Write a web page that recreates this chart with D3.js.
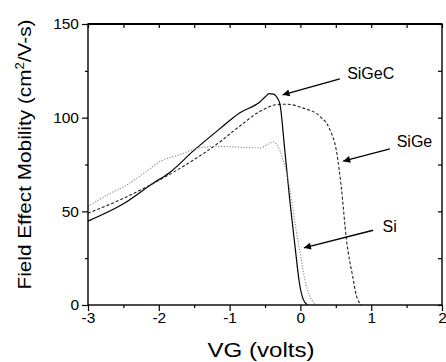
<!DOCTYPE html>
<html>
<head>
<meta charset="utf-8">
<script src="https://cdn.jsdelivr.net/npm/d3@7"></script>
<style>
  body { margin: 0; background: #fff; }
  svg { display: block; font-family: 'Liberation Sans', Arial, sans-serif; }
</style>
</head>
<body>
<div id="chart"></div>
<script>
// Constants
const WIDTH = 446;
const HEIGHT = 362;
const M = { left: 88, right: 4, top: 24, bottom: 57 };

// Data
const sigecVG = [-3.0, -2.5, -2.08, -1.85, -1.52, -1.14, -0.86, -0.57, -0.5, -0.44, -0.38, -0.34, -0.29, -0.22, -0.15, -0.07, -0.015, 0.04, 0.1];
const sigecMob = [44.8, 54, 65, 70.6, 82, 94, 102.5, 108.5, 111, 112.8, 112.6, 111.3, 107.4, 82.4, 55.9, 29.3, 12, 3, 0];

const sigeVG = [-3.0, -2.53, -2.06, -1.59, -1.14, -0.86, -0.57, -0.34, -0.2, 0.04, 0.275, 0.416, 0.51, 0.58, 0.65, 0.745, 0.79, 0.865];
const sigeMob = [49, 56.4, 65.3, 75.5, 87, 95.4, 103.4, 106.9, 107.2, 105.1, 100.7, 93.6, 82, 62, 35, 14, 5, 0];

const siVG = [-3.0, -2.67, -2.5, -2.2, -1.97, -1.7, -1.42, -1.14, -0.85, -0.57, -0.45, -0.39, -0.32, -0.25, -0.19, -0.12, -0.06, 0.0, 0.06, 0.13, 0.22];
const siMob = [52.6, 59.9, 63, 70.6, 76.8, 80.3, 83.9, 84.7, 84.2, 83.9, 86, 87, 85, 78, 70, 55, 40, 27, 14, 5, 0];

const xTicks = [-3, -2, -1, 0, 1, 2];
const xMinor = [-2.5, -1.5, -0.5, 0.5, 1.5];
const yTicks = [0, 50, 100, 150];
const yMinor = [25, 75, 125];

// Labels with arrows (label at [x, y], arrow from -> to, data units)
const labelNames = ['SiGeC', 'SiGe', 'Si'];
const labelPos = [[0.66, 123.4], [1.36, 87.2], [1.16, 42]];
const arrowFrom = [[0.557, 120.7], [1.264, 83.4], [1.028, 39.9]];
const arrowTo = [[-0.252, 112.2], [0.604, 76.8], [0.049, 30.5]];

const series = [
  { name: 'SiGeC', vg: sigecVG, mob: sigecMob, stroke: '#000', dash: null, width: 1.2 },
  { name: 'SiGe', vg: sigeVG, mob: sigeMob, stroke: '#222', dash: '3,2', width: 1.1 },
  { name: 'Si', vg: siVG, mob: siMob, stroke: '#888', dash: '1.2,1.6', width: 1.1 },
];

const svg = d3.select('#chart')
  .append('svg')
  .attr('width', WIDTH)
  .attr('height', HEIGHT);

const x = d3.scaleLinear([-3, 2], [M.left, WIDTH - M.right]);
const y = d3.scaleLinear([0, 150], [HEIGHT - M.bottom, M.top]);

// Arrow marker
svg.append('defs')
  .append('marker')
  .attr('id', 'head')
  .attr('viewBox', '0 0 10 10')
  .attr('refX', 10)
  .attr('refY', 5)
  .attr('markerUnits', 'userSpaceOnUse')
  .attr('markerWidth', 9)
  .attr('markerHeight', 7)
  .attr('orient', 'auto')
  .append('path')
  .attr('d', 'M0,0L10,5L0,10Z')
  .attr('fill', '#000');

// Curves
const line = d3.line()
  .x((d) => x(d[0]))
  .y((d) => y(d[1]))
  .curve(d3.curveMonotoneX);

svg.append('g')
  .selectAll('path')
  .data(series)
  .enter()
  .append('path')
  .attr('fill', 'none')
  .attr('stroke', (d) => d.stroke)
  .attr('stroke-width', (d) => d.width)
  .attr('stroke-dasharray', (d) => d.dash)
  .attr('d', (d) => line(d.vg.map((v, i) => [v, d.mob[i]])));

// Axes
function styleAxis(g) {
  g.select('.domain').remove();
  g.selectAll('line').attr('stroke', '#000').attr('stroke-width', 1.2);
  g.selectAll('text')
    .attr('fill', '#000')
    .style('font-size', '15.5px')
    .style('font-family', "'Liberation Sans', Arial, sans-serif");
}

const x0 = M.left;
const x1 = WIDTH - M.right;
const y0 = HEIGHT - M.bottom;
const y1 = M.top;
const plain = (d) => String(d); // hyphen minus like the original

svg.append('g')
  .attr('transform', `translate(0,${y0})`)
  .call(d3.axisBottom(x).tickValues(xTicks).tickSize(6).tickPadding(1).tickFormat(plain))
  .call(styleAxis);
svg.append('g')
  .attr('transform', `translate(0,${y0})`)
  .call(d3.axisBottom(x).tickValues(xMinor).tickSize(3).tickFormat(''))
  .call(styleAxis);

svg.append('g')
  .attr('transform', `translate(${x0},0)`)
  .call(d3.axisLeft(y).tickValues(yTicks).tickSize(6).tickPadding(3).tickFormat(plain))
  .call(styleAxis);
svg.append('g')
  .attr('transform', `translate(${x0},0)`)
  .call(d3.axisLeft(y).tickValues(yMinor).tickSize(3).tickFormat(''))
  .call(styleAxis);

// Mirror ticks on top and right, pointing inward
svg.append('g')
  .attr('transform', `translate(0,${y1})`)
  .call(d3.axisTop(x).tickValues(xTicks.concat(xMinor)).tickSize(-4).tickFormat(''))
  .call(styleAxis);
svg.append('g')
  .attr('transform', `translate(${x1},0)`)
  .call(d3.axisRight(y).tickValues(yTicks.concat(yMinor)).tickSize(-4).tickFormat(''))
  .call(styleAxis);

// Frame
svg.append('rect')
  .attr('x', x0)
  .attr('y', y1)
  .attr('width', x1 - x0)
  .attr('height', y0 - y1)
  .attr('fill', 'none')
  .attr('stroke', '#000')
  .attr('stroke-width', 1.4);
svg.append('line')
  .attr('x1', x0).attr('x2', x1)
  .attr('y1', y1).attr('y2', y1)
  .attr('stroke', '#000')
  .attr('stroke-width', 2);

// Axis titles
svg.append('text')
  .attr('x', (x0 + x1) / 2 - 4)
  .attr('y', 357)
  .attr('text-anchor', 'middle')
  .attr('textLength', 107)
  .attr('lengthAdjust', 'spacingAndGlyphs')
  .style('font-size', '20px')
  .text('VG (volts)');

const yTitle = svg.append('text')
  .attr('transform', `translate(31,${(y0 + y1) / 2 - 10}) rotate(-90)`)
  .attr('text-anchor', 'middle')
  .attr('textLength', 270)
  .attr('lengthAdjust', 'spacingAndGlyphs')
  .style('font-size', '19px');
yTitle.append('tspan').text('Field Effect Mobility (cm');
yTitle.append('tspan').attr('dy', -7).style('font-size', '12px').text('2');
yTitle.append('tspan').attr('dy', 7).text('/V-s)');

// Annotations
const notes = svg.append('g');
notes.selectAll('line')
  .data(labelNames)
  .enter()
  .append('line')
  .attr('x1', (_, i) => x(arrowFrom[i][0]))
  .attr('y1', (_, i) => y(arrowFrom[i][1]))
  .attr('x2', (_, i) => x(arrowTo[i][0]))
  .attr('y2', (_, i) => y(arrowTo[i][1]))
  .attr('stroke', '#000')
  .attr('stroke-width', 1.3)
  .attr('marker-end', 'url(#head)');

notes.selectAll('text')
  .data(labelNames)
  .enter()
  .append('text')
  .attr('x', (_, i) => x(labelPos[i][0]))
  .attr('y', (_, i) => y(labelPos[i][1]))
  .attr('dy', '0.35em')
  .style('font-size', '16px')
  .text((d) => d);
</script>
</body>
</html>
